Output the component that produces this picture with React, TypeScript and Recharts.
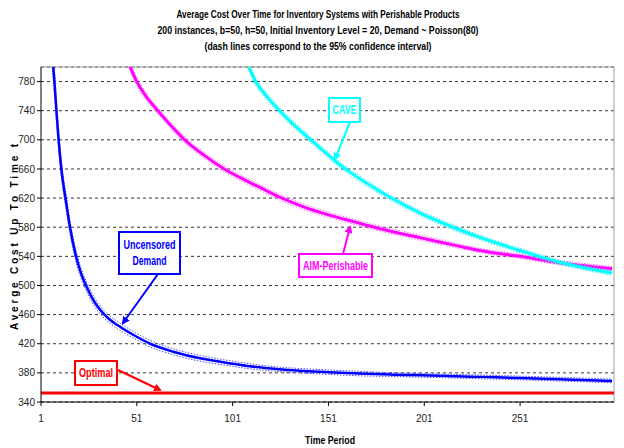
import React from "react";
import { LineChart, Line, XAxis, YAxis, CartesianGrid, ReferenceLine } from "recharts";

const FONT = "'Liberation Sans Narrow', 'Liberation Sans', Arial, sans-serif";

const titleLines = [
  "Average Cost Over Time for Inventory Systems with Perishable Products",
  "200 instances, b=50, h=50, Initial Inventory Level = 20, Demand ~ Poisson(80)",
  "(dash lines correspond to the 95% confidence interval)",
];
const titleWidths = [283, 321, 227];

const xTicks = [1, 51, 101, 151, 201, 251];
const yTicks = [340, 380, 420, 460, 500, 540, 580, 620, 660, 700, 740, 780];

// Uncensored Demand (blue)
const uncensoredPeriods = [5, 6, 7, 8, 9, 10, 11, 12, 14, 16, 19, 22, 25, 29, 33, 37, 43, 50, 58, 70, 84, 100, 110, 125, 136, 151, 167, 185, 209, 230, 251, 275, 299];
const uncensoredMean = [920, 860, 815, 780, 742, 706, 676, 652, 616, 582, 543, 516, 497, 477, 463, 453, 442, 431, 420, 409, 400, 393, 389, 385, 383, 381, 379, 377.5, 376, 374.5, 373, 371, 369];
const uncensoredHalf = [30, 25, 20, 17, 15, 13, 12, 11, 10, 9, 8, 7, 6.5, 6, 5.5, 5, 5, 4.5, 4.5, 4, 4, 3.5, 3.5, 3, 3, 3, 3, 2.5, 2.5, 2.5, 2.5, 2.5, 2.5];

// AIM-Perishable (magenta)
const aimPeriods = [44, 47.5, 51, 56, 62, 69, 76, 86, 96, 105, 115, 125, 138, 151, 165, 178, 200, 219, 230, 251, 270, 299];
const aimMean = [822, 800, 780, 759, 740, 719, 700, 679, 661, 648, 635, 622, 608, 597, 587, 578, 565, 554, 548, 540, 532, 523];
const aimHalf = [5, 5, 5, 5, 4.5, 4.5, 4.5, 4, 4, 4, 4, 4, 4, 3.5, 3.5, 3.5, 3.5, 3, 3, 3, 3, 3];

// CAVE (cyan)
const cavePeriods = [106, 109, 113, 119, 125.5, 132, 140, 147, 154, 162, 170, 184.5, 200, 215, 230, 251, 270, 285, 299];
const caveMean = [822, 803, 780, 759, 740, 723, 704, 688, 672, 656, 642, 619, 598, 581, 566, 548, 533, 524, 517];
const caveHalf = [5, 5, 5, 4.5, 4.5, 4.5, 4, 4, 4, 4, 4, 3.5, 3.5, 3.5, 3, 3, 3, 3, 3];

// Optimal (red)
const optimalPeriods = [1, 300];
const optimalCost = [352.5, 352.5];

function build(periods: number[], mean: number[], half?: number[]) {
  return periods.map((t, i) => ({
    t,
    mean: mean[i],
    lo: half ? mean[i] - half[i] : mean[i],
    hi: half ? mean[i] + half[i] : mean[i],
  }));
}

const uncensoredData = build(uncensoredPeriods, uncensoredMean, uncensoredHalf);
const aimData = build(aimPeriods, aimMean, aimHalf);
const caveData = build(cavePeriods, caveMean, caveHalf);
const optimalData = build(optimalPeriods, optimalCost);

const tickStyle = { fill: "#222", fontSize: 10, fontFamily: FONT };

function Callout({ x, y, w, h, color, lines, widths }: { x: number; y: number; w: number; h: number; color: string; lines: string[]; widths: number[] }) {
  const lh = 16;
  const start = y + h / 2 - ((lines.length - 1) * lh) / 2;
  return (
    <g>
      <rect x={x} y={y} width={w} height={h} fill="#fff" stroke={color} strokeWidth={2} />
      {lines.map((l, i) => (
        <text
          key={i}
          x={x + w / 2}
          y={start + i * lh}
          dy="0.36em"
          textAnchor="middle"
          fill={color}
          fontSize={12}
          fontWeight="bold"
          fontFamily={FONT}
          textLength={widths[i]}
          lengthAdjust="spacingAndGlyphs"
        >
          {l}
        </text>
      ))}
    </g>
  );
}

function Arrow({ x1, y1, x2, y2, color, id }: { x1: number; y1: number; x2: number; y2: number; color: string; id: string }) {
  return <line x1={x1} y1={y1} x2={x2} y2={y2} stroke={color} strokeWidth={2} markerEnd={`url(#${id})`} />;
}

export default function App() {
  const series = [
    { data: uncensoredData, color: "#0000ff", ci: "#4d4dff", width: 2.5 },
    { data: aimData, color: "#ff00ff", ci: "#ff66ff", width: 3 },
    { data: caveData, color: "#00ffff", ci: "#33e0f0", width: 3 },
  ];
  return (
    <div style={{ position: "fixed", left: 0, top: 0, width: 624, height: 448, background: "#fff" }}>
      <LineChart width={624} height={448} margin={{ top: 67, right: 10, left: 0, bottom: 0 }}>
        <CartesianGrid horizontal vertical={false} stroke="#000" strokeDasharray="3 3" strokeWidth={0.8} />
        <XAxis
          type="number"
          dataKey="t"
          domain={[1, 300]}
          ticks={xTicks}
          allowDataOverflow
          height={46}
          tick={tickStyle}
          tickSize={4}
          tickMargin={9}
          stroke="#000"
        />
        <YAxis
          type="number"
          domain={[340, 800]}
          ticks={yTicks}
          allowDataOverflow
          width={41}
          tick={tickStyle}
          tickSize={4}
          stroke="#000"
        />
        <ReferenceLine y={800} stroke="#a0a0a0" strokeWidth={1} />
        <ReferenceLine x={300} stroke="#a0a0a0" strokeWidth={1} />
        <Line data={optimalData} dataKey="mean" type="linear" stroke="#ff0000" strokeWidth={3} dot={false} isAnimationActive={false} />
        {series.map((s, i) => (
          <React.Fragment key={i}>
            <Line data={s.data} dataKey="hi" type="monotone" stroke={s.ci} strokeWidth={1} strokeDasharray="1.5 1.5" dot={false} isAnimationActive={false} />
            <Line data={s.data} dataKey="lo" type="monotone" stroke={s.ci} strokeWidth={1} strokeDasharray="1.5 1.5" dot={false} isAnimationActive={false} />
            <Line data={s.data} dataKey="mean" type="monotone" stroke={s.color} strokeWidth={s.width} dot={false} isAnimationActive={false} />
          </React.Fragment>
        ))}
      </LineChart>
      <svg width={624} height={448} style={{ position: "absolute", left: 0, top: 0, pointerEvents: "none" }}>
        <defs>
          {[["ah-blue", "#0000ff"], ["ah-red", "#ff0000"], ["ah-cyan", "#00ffff"], ["ah-mag", "#ff00ff"]].map(([id, c]) => (
            <marker key={id} id={id} markerWidth={8} markerHeight={8} refX={6} refY={4} orient="auto" markerUnits="userSpaceOnUse">
              <path d="M0,0 L8,4 L0,8 Z" fill={c} />
            </marker>
          ))}
        </defs>
        {titleLines.map((l, i) => (
          <text
            key={i}
            x={318}
            y={18 + i * 16}
            textAnchor="middle"
            fontSize={11}
            fontWeight="bold"
            fontFamily={FONT}
            fill="#000"
            textLength={titleWidths[i]}
            lengthAdjust="spacingAndGlyphs"
          >
            {l}
          </text>
        ))}
        <text x={14} y={237} transform="rotate(-90 14 237)" textAnchor="middle" dy="0.36em" fontSize={10} fontWeight="bold" fontFamily={FONT} textLength={186} lengthAdjust="spacing" fill="#000">
          Averge Cost Up To Time t
        </text>
        <text x={330} y={440} textAnchor="middle" dy="0.36em" fontSize={10} fontWeight="bold" fontFamily={FONT} textLength={50} lengthAdjust="spacingAndGlyphs" fill="#000">
          Time Period
        </text>
        <Arrow x1={158} y1={274} x2={123} y2={323} color="#0000ff" id="ah-blue" />
        <Callout x={119} y={232} w={61} h={42} color="#0000ff" lines={["Uncensored", "Demand"]} widths={[52, 34]} />
        <Arrow x1={118} y1={370} x2={160} y2={390} color="#ff0000" id="ah-red" />
        <Callout x={75} y={361} w={42} h={24} color="#ff0000" lines={["Optimal"]} widths={[34]} />
        <Arrow x1={350} y1={122} x2={335} y2={159} color="#00ffff" id="ah-cyan" />
        <Callout x={329} y={98} w={31} h={24} color="#00ffff" lines={["CAVE"]} widths={[24]} />
        <Arrow x1={343} y1={254} x2={350} y2={227} color="#ff00ff" id="ah-mag" />
        <Callout x={299} y={254} w={73} h={23} color="#ff00ff" lines={["AIM-Perishable"]} widths={[65]} />
      </svg>
    </div>
  );
}
